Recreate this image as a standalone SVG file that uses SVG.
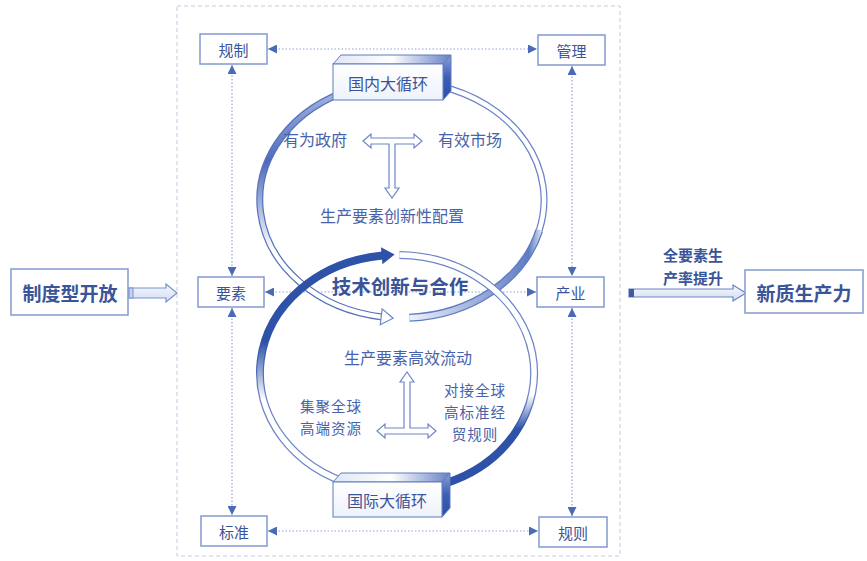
<svg xmlns="http://www.w3.org/2000/svg" width="867" height="561" viewBox="0 0 867 561">
<style>
.box{fill:#ffffff;stroke:#8399d2;stroke-width:1.5}
.lbl{font-family:"Noto Sans CJK SC","Noto Sans",sans-serif;font-size:15px;fill:#3a5499;text-anchor:middle;dominant-baseline:central}
.in{font-family:"Noto Sans CJK SC","Noto Sans",sans-serif;font-size:16px;fill:#4763ab;text-anchor:middle;dominant-baseline:central}
.ml{font-family:"Noto Sans CJK SC","Noto Sans",sans-serif;font-size:14.5px;fill:#4763ab;text-anchor:middle;dominant-baseline:central;letter-spacing:1px}
.big{font-family:"Noto Sans CJK SC","Noto Sans",sans-serif;font-size:19px;font-weight:bold;fill:#3a5499;text-anchor:middle;dominant-baseline:central}
.dot{fill:none;stroke:#8fa3d6;stroke-width:1.2;stroke-dasharray:1.5 2;marker-start:url(#ah);marker-end:url(#ah)}
.hol{fill:#ffffff;stroke:#6e86c7;stroke-width:1.2;stroke-linejoin:miter}
.face{stroke:#5f7bc2;stroke-width:1}
</style>
<defs>
<marker id="ah" viewBox="0 0 10 10" refX="10" refY="5" markerWidth="9" markerHeight="9" markerUnits="userSpaceOnUse" orient="auto-start-reverse"><path d="M0,0 L10,5 L0,10 z" fill="#4a69b7"/></marker>
<linearGradient id="gTL" gradientUnits="userSpaceOnUse" x1="0" y1="90" x2="0" y2="250"><stop offset="0" stop-color="#a3b4e0"/><stop offset="0.45" stop-color="#4d6bb9"/><stop offset="1" stop-color="#ffffff"/></linearGradient>
<linearGradient id="gBL" gradientUnits="userSpaceOnUse" x1="0" y1="255" x2="0" y2="400"><stop offset="0" stop-color="#2d52a8"/><stop offset="0.6" stop-color="#2d52a8"/><stop offset="1" stop-color="#ffffff"/></linearGradient>
<linearGradient id="gBLo" gradientUnits="userSpaceOnUse" x1="0" y1="255" x2="0" y2="400"><stop offset="0" stop-color="#2d52a8"/><stop offset="0.6" stop-color="#2d52a8"/><stop offset="1" stop-color="#6d86c7"/></linearGradient>
<linearGradient id="gBR" gradientUnits="userSpaceOnUse" x1="0" y1="395" x2="0" y2="480"><stop offset="0" stop-color="#ffffff"/><stop offset="0.4" stop-color="#2d52a8"/><stop offset="1" stop-color="#2d52a8"/></linearGradient>
<linearGradient id="gBRo" gradientUnits="userSpaceOnUse" x1="0" y1="395" x2="0" y2="480"><stop offset="0" stop-color="#6d86c7"/><stop offset="0.4" stop-color="#2d52a8"/><stop offset="1" stop-color="#2d52a8"/></linearGradient>
<linearGradient id="gR2" gradientUnits="userSpaceOnUse" x1="545" y1="0" x2="409" y2="0"><stop offset="0" stop-color="#ffffff"/><stop offset="0.12" stop-color="#5f7bc2"/><stop offset="1" stop-color="#eef2fa"/></linearGradient>
<linearGradient id="gTop" x1="0" y1="0" x2="1" y2="0"><stop offset="0" stop-color="#dfe6f5"/><stop offset="0.5" stop-color="#ffffff"/><stop offset="1" stop-color="#6781c4"/></linearGradient>
<linearGradient id="gSide" x1="0" y1="0" x2="0" y2="1"><stop offset="0" stop-color="#8aa0d8"/><stop offset="0.5" stop-color="#3d5fb2"/><stop offset="1" stop-color="#2a4ea5"/></linearGradient>
<linearGradient id="gFront" x1="0" y1="0" x2="0" y2="1"><stop offset="0" stop-color="#ffffff"/><stop offset="1" stop-color="#eef2fb"/></linearGradient>
<linearGradient id="gArr" x1="0" y1="0" x2="0" y2="1"><stop offset="0" stop-color="#f6f8fd"/><stop offset="1" stop-color="#d3dcf1"/></linearGradient>
</defs>

<rect x="177" y="6" width="443" height="550" fill="none" stroke="#c3cbe0" stroke-width="1" stroke-dasharray="4 3"/>

<g id="connectors">
<path class="dot" d="M268 49 L537 49"/>
<path class="dot" d="M232 65 L232 276"/>
<path class="dot" d="M572 66 L572 276"/>
<path class="dot" d="M232 308 L232 515"/>
<path class="dot" d="M572 308 L572 516"/>
<path class="dot" d="M268 531 L538 531"/>
<path class="dot" d="M265 292 L536 292"/>
<g id="arrow-left">
<polygon points="129,288 166,288 166,284 177,293 166,302 166,298 129,298" fill="url(#gArr)" stroke="#7b92cf" stroke-width="1.2"/>
<rect x="129" y="288" width="4" height="10" fill="#c7d2ee" stroke="#7b92cf" stroke-width="1"/>
</g>
<g id="arrow-right">
<polygon points="629,289 733,289 733,285 746,293 733,301 733,297 629,297" fill="url(#gArr)" stroke="#6a83c6" stroke-width="1.2"/>
<rect x="629" y="289" width="5" height="8" fill="#3d5aa5"/>
</g>
</g>

<g id="domestic-loop">
<path d="M353.4 89.1 A142 118 0 0 0 382.2 316.9" fill="none" stroke="#5672bd" stroke-width="7"/>
<path d="M353.4 89.1 A142 118 0 0 0 382.2 316.9" fill="none" stroke="url(#gTL)" stroke-width="4.5"/>
<polygon class="hol" transform="translate(382.2,316.9) rotate(6.65)" points="-1,-8 11,0 -1,8"/>
<path d="M438.8 86 A142 118 0 0 1 539.2 230.5" fill="none" stroke="#6a83c6" stroke-width="7"/>
<path d="M438.8 86 A142 118 0 0 1 539.2 230.5" fill="none" stroke="#ffffff" stroke-width="4.5"/>
<path d="M539.2 230.5 A142 118 0 0 1 409.4 317.8" fill="none" stroke="#5f7bc2" stroke-width="8"/>
<path d="M539.2 230.5 A142 118 0 0 1 409.4 317.8" fill="none" stroke="url(#gR2)" stroke-width="5.5"/>
</g>

<g id="intl-loop">
<path d="M354.7 485.2 A137 118 0 0 1 382.7 255.6" fill="none" stroke="url(#gBLo)" stroke-width="8"/>
<path d="M354.7 485.2 A137 118 0 0 1 382.7 255.6" fill="none" stroke="url(#gBL)" stroke-width="5.5"/>
<polygon transform="translate(382.7,255.6) rotate(-5.2)" points="-1,-8.5 12,0 -1,8.5" fill="#2d52a8"/>
<path d="M399.4 255 A137 118 0 0 1 443.9 483.9" fill="none" stroke="url(#gBRo)" stroke-width="8"/>
<path d="M399.4 255 A137 118 0 0 1 443.9 483.9" fill="none" stroke="url(#gBR)" stroke-width="5.5"/>
</g>

<g id="box-domestic">
<path class="face" d="M333,64 L341,55 L451,55 L443,64 Z" fill="url(#gTop)"/>
<path class="face" d="M443,64 L451,55 L451,91 L443,100 Z" fill="url(#gSide)"/>
<rect class="face" x="333" y="64" width="110" height="36" fill="url(#gFront)"/>
<text class="in" x="388" y="83" style="fill:#3a5499">国内大循环</text>
</g>
<g id="box-intl">
<path class="face" d="M333,482 L341,473 L450,473 L442,482 Z" fill="url(#gTop)"/>
<path class="face" d="M442,482 L450,473 L450,508 L442,517 Z" fill="url(#gSide)"/>
<rect class="face" x="333" y="482" width="109" height="35" fill="url(#gFront)"/>
<text class="in" x="387" y="500" style="fill:#3a5499">国际大循环</text>
</g>

<g id="t-top">
<polygon class="hol" points="363,141 371,134 371,138 414,138 414,134 422,141 414,148 414,144 395,144 395,188 399,188 392,198 385,188 389,188 389,144 371,144 371,148"/>
<text class="in" x="315" y="139">有为政府</text>
<text class="in" x="470" y="139">有效市场</text>
<text class="in" x="392" y="215">生产要素创新性配置</text>
</g>

<g id="center-label">
<text class="big" x="400" y="285" style="font-size:19.5px">技术创新与合作</text>
</g>

<g id="t-bottom">
<polygon class="hol" points="407,372 414,382 410,382 410,428 428,428 428,424 436,431 428,438 428,434 385,434 385,438 377,431 385,424 385,428 404,428 404,382 400,382"/>
<text class="in" x="408" y="357">生产要素高效流动</text>
<text class="ml" x="331" y="405">集聚全球</text>
<text class="ml" x="331" y="427">高端资源</text>
<text class="ml" x="475" y="389">对接全球</text>
<text class="ml" x="475" y="411">高标准经</text>
<text class="ml" x="475" y="433">贸规则</text>
</g>

<g id="node-guizhi"><rect class="box" x="200" y="34" width="67" height="30"/><text class="lbl" x="233.5" y="49">规制</text></g>
<g id="node-guanli"><rect class="box" x="538" y="35" width="67" height="30"/><text class="lbl" x="571.5" y="50">管理</text></g>
<g id="node-yaosu"><rect class="box" x="198" y="277" width="66" height="30"/><text class="lbl" x="231" y="292">要素</text></g>
<g id="node-chanye"><rect class="box" x="537" y="277" width="67" height="30"/><text class="lbl" x="570.5" y="292">产业</text></g>
<g id="node-biaozhun"><rect class="box" x="201" y="516" width="66" height="30"/><text class="lbl" x="234" y="531">标准</text></g>
<g id="node-guize"><rect class="box" x="539" y="517" width="68" height="30"/><text class="lbl" x="573" y="532">规则</text></g>

<g id="node-open"><rect class="box" x="11" y="269" width="117" height="46"/><text class="big" x="70" y="292">制度型开放</text></g>
<g id="node-new"><rect class="box" x="745" y="270" width="118" height="43"/><text class="big" x="804" y="292">新质生产力</text></g>
<g id="label-tfp">
<text class="big" x="693" y="254" style="font-size:15px">全要素生</text>
<text class="big" x="693" y="277" style="font-size:15px">产率提升</text>
</g>
</svg>
